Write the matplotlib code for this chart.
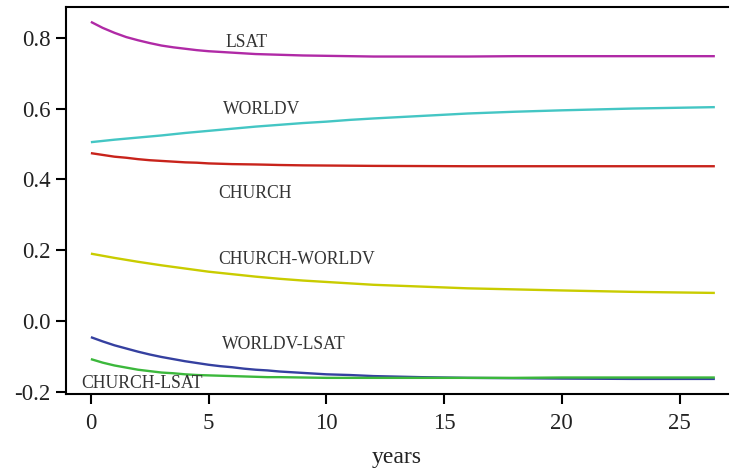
import matplotlib
matplotlib.use("Agg")
import matplotlib.pyplot as plt

years_fine = [0, 0.5, 1, 1.5, 2, 2.5, 3, 3.5, 4, 4.5, 5, 5.5, 6, 6.5, 7, 7.5, 8,
              9, 10, 11, 12, 14, 16, 18, 20, 23, 26.5]
years_coarse = [0, 1, 2, 3, 4, 5, 6, 7, 8, 9, 10, 11, 12, 14, 16, 18, 20, 23, 26.5]

lsat = [0.845, 0.828, 0.814, 0.802, 0.793, 0.785, 0.778, 0.773, 0.769, 0.765, 0.762, 0.760,
        0.758, 0.756, 0.754, 0.753, 0.752, 0.750, 0.749, 0.748, 0.747, 0.747, 0.747, 0.748,
        0.748, 0.748, 0.748]
worldv = [0.505, 0.512, 0.518, 0.524, 0.531, 0.537, 0.543, 0.549, 0.554, 0.559, 0.563, 0.568,
          0.572, 0.579, 0.586, 0.591, 0.595, 0.600, 0.604]
church = [0.474, 0.469, 0.464, 0.461, 0.457, 0.454, 0.452, 0.450, 0.448, 0.447, 0.445, 0.444,
          0.443, 0.4425, 0.442, 0.4413, 0.4405, 0.4395, 0.439, 0.4385, 0.438, 0.4375, 0.437, 0.437,
          0.437, 0.437, 0.437]
church_worldv = [0.190, 0.178, 0.167, 0.157, 0.148, 0.139, 0.132, 0.125, 0.119, 0.114, 0.110,
                 0.106, 0.102, 0.097, 0.092, 0.089, 0.086, 0.082, 0.079]
worldv_lsat = [-0.046, -0.058, -0.069, -0.078, -0.087, -0.095, -0.102, -0.108, -0.114, -0.119,
               -0.124, -0.128, -0.131, -0.135, -0.138, -0.140, -0.143, -0.147, -0.151, -0.153,
               -0.156, -0.159, -0.161, -0.162, -0.163, -0.164, -0.164]
church_lsat = [-0.108, -0.118, -0.126, -0.132, -0.138, -0.142, -0.146, -0.148, -0.151, -0.153,
               -0.154, -0.155, -0.156, -0.157, -0.158, -0.159, -0.159, -0.160, -0.161, -0.161,
               -0.161, -0.161, -0.161, -0.161, -0.160, -0.160, -0.160]

series_names = ["LSAT", "WORLDV", "CHURCH", "CHURCH-WORLDV", "WORLDV-LSAT", "CHURCH-LSAT"]
series_x = [years_fine, years_coarse, years_fine, years_coarse, years_fine, years_fine]
series_values = [lsat, worldv, church, church_worldv, worldv_lsat, church_lsat]
colors = ["#b02aa6", "#44c6c4", "#c8231b", "#c9cc00", "#3540a0", "#3cb83c"]
label_pos = [(5.73, 0.788), (5.6, 0.598), (5.43, 0.36), (5.43, 0.174), (5.56, -0.066), (-0.42, -0.178)]

xticks = [0, 5, 10, 15, 20, 25]
yticks = [-0.2, 0.0, 0.2, 0.4, 0.6, 0.8]
ytick_labels = ["-0.2", "0.0", "0.2", "0.4", "0.6", "0.8"]

plt.rcParams['font.family'] = ['Liberation Serif', 'DejaVu Serif']

fig = plt.figure(figsize=(7.3, 4.69), dpi=100)
ax = fig.add_axes([0.09, 0.1606, 0.907, 0.8245])

for name, xs, vals, c, (lx, ly) in zip(series_names, series_x, series_values, colors, label_pos):
    ax.plot(xs, vals, color=c, lw=1.7, solid_capstyle='butt', solid_joinstyle='round')
    ax.text(lx, ly, name, fontsize=12.7, color="#333333", ha='left', va='center')

ax.set_xlim(-1.07, 27.05)
ax.set_ylim(-0.2057, 0.887)
ax.set_xticks(xticks)
ax.set_xticklabels([str(t) for t in xticks])
ax.set_yticks(yticks)
ax.set_yticklabels(ytick_labels)
ax.tick_params(direction='out', length=7, width=1.5, labelsize=16.5, colors='black', labelcolor='#222222', pad=4)
ax.tick_params(axis='x', top=False, pad=7)
ax.tick_params(axis='y', right=False)
for s in ['left', 'bottom', 'top']:
    ax.spines[s].set_linewidth(1.5)
    ax.spines[s].set_color('black')
ax.spines['right'].set_visible(False)
ax.set_xlabel("years", fontsize=17, color='#222222', labelpad=9)

fig.savefig("out.png", dpi=100)
